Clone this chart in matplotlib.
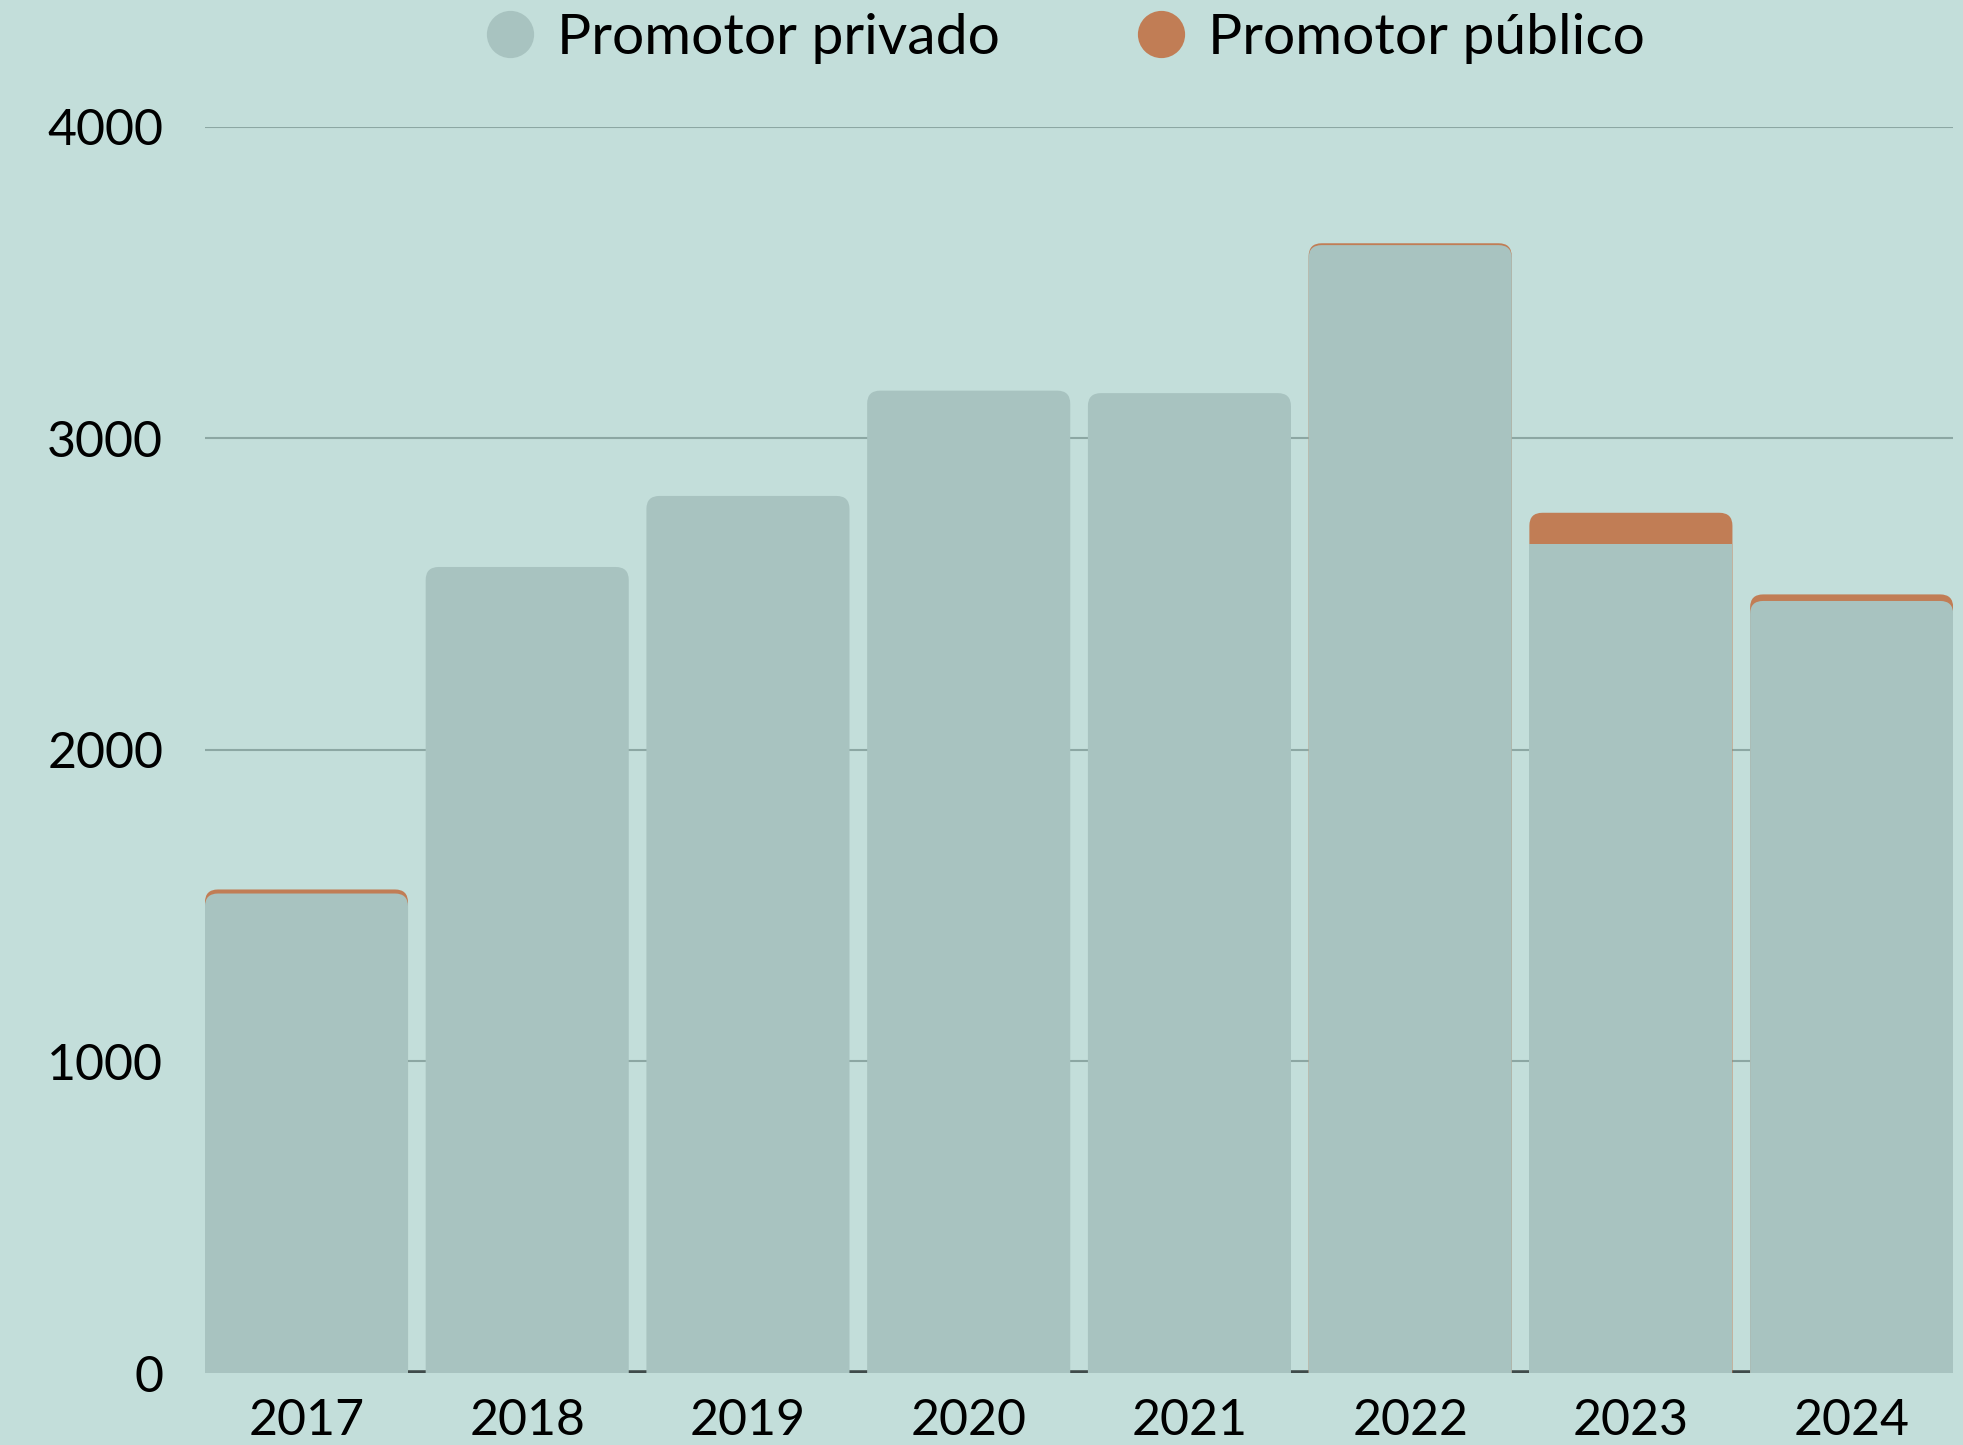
import numpy as np
import matplotlib.pyplot as plt
from matplotlib.path import Path
from matplotlib.patches import PathPatch
from matplotlib.lines import Line2D

anos = ["2017", "2018", "2019", "2020", "2021", "2022", "2023", "2024"]
privado = [1539, 2587, 2815, 3153, 3145, 3620, 2661, 2478]
publico = [13, 0, 0, 0, 0, 6, 100, 21]

fondo = "#C3DEDA"
gris = "#A8C3C0"
naranja = "#C17D55"
rejilla = "#8CA7A3"

plt.rcParams['font.family'] = ['Lato', 'DejaVu Sans']


def barra_redondeada(ax, x, y0, alto, ancho, rx, ry, color, redondear=True):
    """Rectangulo con las esquinas de arriba redondeadas (coordenadas de datos)."""
    izq, der = x - ancho / 2, x + ancho / 2
    arriba = y0 + alto
    if not redondear or alto <= 0:
        verts = [(izq, y0), (der, y0), (der, arriba), (izq, arriba), (izq, y0)]
        codes = [Path.MOVETO, Path.LINETO, Path.LINETO, Path.LINETO, Path.CLOSEPOLY]
    else:
        ry = min(ry, alto)
        verts = [(izq, y0), (der, y0), (der, arriba - ry),
                 (der, arriba), (der - rx, arriba),
                 (izq + rx, arriba),
                 (izq, arriba), (izq, arriba - ry),
                 (izq, y0)]
        codes = [Path.MOVETO, Path.LINETO, Path.LINETO,
                 Path.CURVE3, Path.CURVE3,
                 Path.LINETO,
                 Path.CURVE3, Path.CURVE3,
                 Path.CLOSEPOLY]
    ax.add_patch(PathPatch(Path(verts, codes), facecolor=color, edgecolor="none", zorder=3))


fig = plt.figure(figsize=(19.63, 14.45), dpi=100, facecolor=fondo)
ax = fig.add_axes([0.1044, 0.0498, 0.8906, 0.8625], facecolor=fondo)

x = np.arange(len(anos))
ancho = 0.92
ax.set_xlim(-ancho / 2, len(anos) - 1 + ancho / 2)
ax.set_ylim(0, 4000)

# radio de ~13 px pasado a unidades de datos
px_x = 1748 / (len(anos) - 1 + ancho)
px_y = 1246 / 4000
rx, ry = 13 / px_x, 13 / px_y

for i in range(len(anos)):
    total = privado[i] + publico[i]
    if publico[i] > 0:
        barra_redondeada(ax, x[i], 0, total, ancho, rx, ry, naranja)
    barra_redondeada(ax, x[i], 0, privado[i], ancho, rx, ry, gris,
                     redondear=publico[i] < 40)

ax.set_yticks([0, 1000, 2000, 3000, 4000])
ax.grid(axis="y", color=rejilla, linewidth=1.5, zorder=0)
ax.set_axisbelow(True)
for s in ax.spines.values():
    s.set_visible(False)
# linea base oscura, solo visible entre las barras
ax.axhline(0, color="#3F4B4A", linewidth=4, zorder=2)

ax.set_xticks(x)
ax.set_xticklabels(anos)
ax.tick_params(axis="x", length=0, pad=18, labelsize=36)
ax.tick_params(axis="y", length=0, pad=30, labelsize=36)

handles = [
    Line2D([], [], marker="o", linestyle="none", markersize=34, markerfacecolor=gris, markeredgecolor="none"),
    Line2D([], [], marker="o", linestyle="none", markersize=34, markerfacecolor=naranja, markeredgecolor="none"),
]
fig.legend(handles, ["Promotor privado", "Promotor público"], loc="center",
           bbox_to_anchor=(0.5426, 0.9735), ncol=2, frameon=False, fontsize=41,
           handlelength=0.85, handletextpad=0.4, columnspacing=2.4,
           borderaxespad=0, borderpad=0)

fig.savefig("out.png", dpi=100, facecolor=fondo)
